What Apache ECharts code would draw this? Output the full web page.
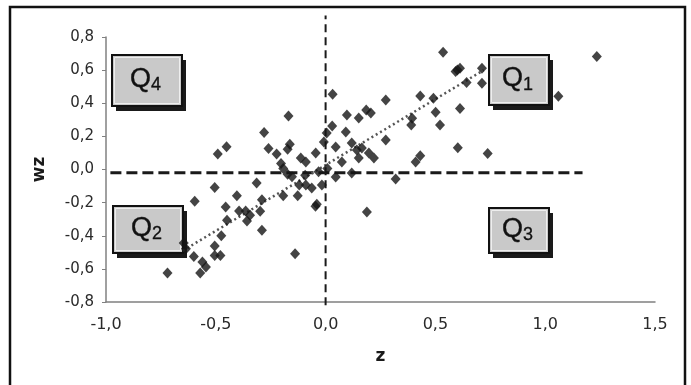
<!DOCTYPE html>
<html>
<head>
<meta charset="utf-8">
<script src="https://cdn.jsdelivr.net/npm/echarts@6/dist/echarts.min.js"></script>
<style>
  html, body { margin: 0; padding: 0; background: #fff; }
  #chart { width: 691px; height: 385px; }
</style>
</head>
<body>
<div id="chart"></div>
<script>
// z values (x) and spatial lag wz (y)
var zVals = [0.535, 1.235, 0.592, 0.612, 0.600, 0.712, 0.642, 0.712, 1.060, 0.032,
  0.431, 0.491, 0.274, 0.612, 0.501, 0.185, 0.206, 0.097, 0.151, -0.169,
  0.394, 0.390, 0.521, 0.030, -0.280, 0.092, 0.005, -0.008, 0.274, 0.119,
  -0.163, -0.451, -0.491, -0.260, -0.173, 0.046, 0.602, 0.142, 0.165, 0.197,
  0.738, -0.223, -0.045, -0.090, 0.220, 0.151, 0.431, 0.410, 0.074, -0.113,
  -0.203, -0.193, -0.173, -0.153, -0.032, 0.008, 0.119, 0.046, 0.319, -0.093,
  -0.314, -0.505, -0.120, -0.063, -0.017, -0.127, -0.193, -0.404, -0.290, -0.596,
  -0.040, -0.046, -0.455, -0.394, -0.364, -0.298, -0.344, -0.358, 0.188, -0.449,
  -0.290, -0.475, -0.646, -0.636, -0.505, -0.600, -0.505, -0.479, -0.139, -0.561,
  -0.545, -0.571, -0.720, -0.090];
var wzVals = [0.708, 0.682, 0.591, 0.611, 0.601, 0.611, 0.525, 0.521, 0.442, 0.454,
  0.444, 0.430, 0.420, 0.369, 0.345, 0.359, 0.341, 0.329, 0.311, 0.323,
  0.309, 0.268, 0.268, 0.263, 0.224, 0.226, 0.220, 0.166, 0.178, 0.160,
  0.153, 0.137, 0.093, 0.127, 0.123, 0.136, 0.131, 0.118, 0.130, 0.100,
  0.097, 0.093, 0.100, 0.045, 0.069, 0.069, 0.083, 0.045, 0.045, 0.069,
  0.036, 0.006, -0.028, -0.044, -0.014, 0.006, -0.021, -0.045, -0.057, -0.034,
  -0.081, -0.109, -0.094, -0.112, -0.094, -0.159, -0.159, -0.159, -0.182, -0.192,
  -0.210, -0.222, -0.226, -0.250, -0.250, -0.252, -0.276, -0.311, -0.257, -0.307,
  -0.367, -0.400, -0.444, -0.478, -0.462, -0.525, -0.519, -0.519, -0.508, -0.559,
  -0.589, -0.625, -0.625, -0.094];

// reference lines
var hLine = [[-0.98, -0.02], [1.17, -0.02]];
var vLine = [[0, -0.82], [0, 0.93]];
var trendLine = [[-0.65, -0.49], [0.72, 0.60]];

var xMin = -1.0, xMax = 1.5, xStep = 0.5;
var yMin = -0.8, yMax = 0.8, yStep = 0.2;

var points = zVals.map(function (z, i) { return [z, wzVals[i]]; });

function comma(v) { return (Math.round(v * 10) / 10).toFixed(1).replace('.', ','); }

// quadrant label box: shadow, box, "Q" and subscript digit
function qBox(x, y, w, h, sub) {
  var cx = w / 2, cy = h / 2;
  return {
    type: 'group', left: x, top: y, z: 100,
    children: [
      { type: 'rect', shape: { x: 4, y: 5, width: w, height: h }, style: { fill: '#1a1a1a' } },
      { type: 'rect', shape: { x: 0, y: 0, width: w, height: h }, style: { fill: '#c9c9c9', stroke: '#111', lineWidth: 2 } },
      { type: 'rect', shape: { x: 2.5, y: 2.5, width: w - 5, height: h - 5 }, style: { fill: 'none', stroke: '#eee', lineWidth: 1 } },
      { type: 'text', x: cx + 4, y: cy - 1, style: { text: 'Q', fill: '#111', font: '27px "Liberation Sans", Arial, sans-serif', align: 'right', verticalAlign: 'middle', stroke: '#111', lineWidth: 0.4 } },
      { type: 'text', x: cx + 4, y: cy + 5, style: { text: sub, fill: '#111', font: '18px "Liberation Sans", Arial, sans-serif', align: 'left', verticalAlign: 'middle', stroke: '#111', lineWidth: 0.3 } }
    ]
  };
}

var chart = echarts.init(document.getElementById('chart'));
var option = {
  backgroundColor: '#fff',
  animation: false,
  grid: { left: 106, right: 36, top: 37, bottom: 83, containLabel: false, outerBoundsMode: 'none' },
  xAxis: {
    type: 'value', min: xMin, max: xMax, interval: xStep,
    name: 'z', nameLocation: 'middle', nameGap: 46,
    nameTextStyle: { fontFamily: 'DejaVu Sans', fontWeight: 'bold', fontSize: 17, color: '#1a1a1a' },
    axisLine: { onZero: false, lineStyle: { color: '#808080', width: 1.5 } },
    axisTick: { show: false },
    splitLine: { show: false },
    axisLabel: { formatter: comma, fontFamily: 'DejaVu Sans', fontSize: 16, color: '#2a2a2a', margin: 15 }
  },
  yAxis: {
    type: 'value', min: yMin, max: yMax, interval: yStep,
    name: 'wz', nameLocation: 'middle', nameGap: 58, nameRotate: 90,
    nameTextStyle: { fontFamily: 'DejaVu Sans', fontWeight: 'bold', fontSize: 17, color: '#1a1a1a' },
    axisLine: { show: true, onZero: false, lineStyle: { color: '#808080', width: 1.5 } },
    axisTick: { show: true, length: 4, inside: false, lineStyle: { color: '#808080' } },
    splitLine: { show: false },
    axisLabel: { formatter: comma, fontFamily: 'DejaVu Sans', fontSize: 15, color: '#2a2a2a', margin: 12 }
  },
  series: [
    {
      type: 'line', data: vLine, symbol: 'none', clip: false, z: 2,
      lineStyle: { color: '#1a1a1a', width: 2, type: [8, 5] }
    },
    {
      type: 'line', data: hLine, symbol: 'none', clip: false, z: 2,
      lineStyle: { color: '#1a1a1a', width: 3, type: [11, 5] }
    },
    {
      type: 'line', data: trendLine, symbol: 'none', z: 3,
      lineStyle: { color: '#555', width: 2.5, type: [2, 3] }
    },
    {
      type: 'scatter', data: points, symbol: 'diamond', symbolSize: [10, 11], z: 5,
      itemStyle: { color: '#151515' }
    }
  ],
  graphic: [
    { type: 'rect', shape: { x: 10, y: 7, width: 675, height: 390 }, style: { fill: 'none', stroke: '#111', lineWidth: 2.5 }, z: 50 },
    qBox(488, 54, 60, 50, '1'),
    qBox(112, 205, 70, 47, '2'),
    qBox(488, 207, 60, 45, '3'),
    qBox(111, 54, 70, 51, '4')
  ]
};
chart.setOption(option);
</script>
</body>
</html>
